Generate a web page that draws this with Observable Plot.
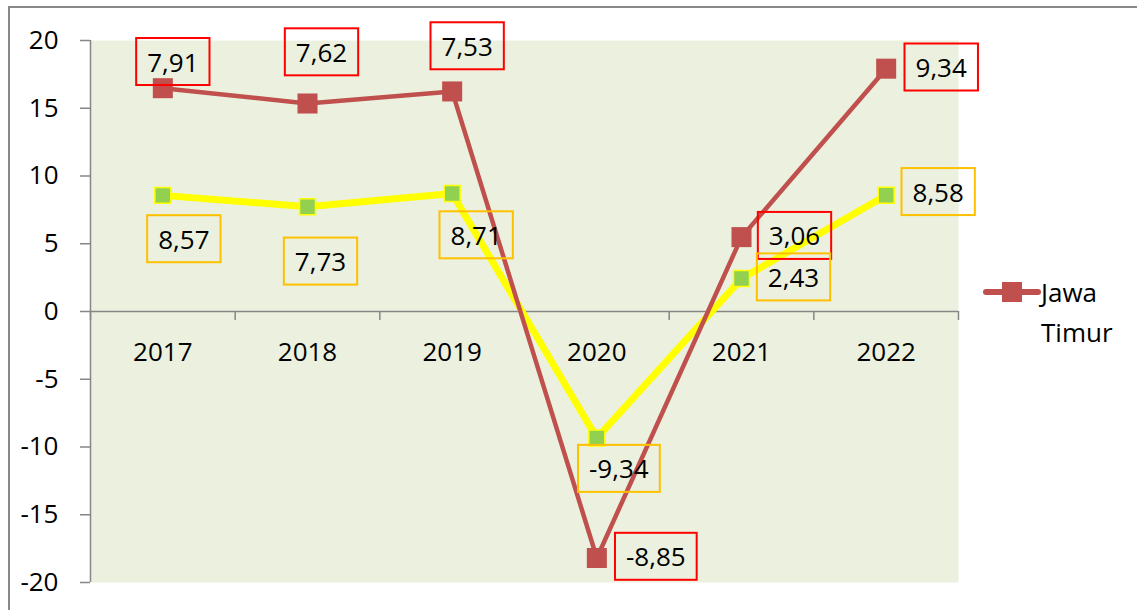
<!DOCTYPE html>
<html><head><meta charset="utf-8">
<script src="https://cdn.jsdelivr.net/npm/d3@7"></script>
<script src="https://cdn.jsdelivr.net/npm/@observablehq/plot@0.6"></script>
<style>
body{margin:0;background:#fff;overflow:hidden;font-family:"Open Sans",sans-serif;}
#wrap{position:relative;width:1137px;height:610px;overflow:hidden;}
#border{position:absolute;left:8px;top:6px;width:1300px;height:800px;border-left:2px solid #888;border-top:2px solid #888;}
#chart{position:absolute;left:0;top:0;}
#legend{position:absolute;left:983px;top:272px;display:flex;align-items:flex-start;}
#legend .txt{font-size:26px;line-height:40px;color:#000;margin-left:0px;}
</style>
</head><body>
<div id="wrap">
<div id="border"></div>
<div id="chart"></div>
<div id="legend"></div>
</div>
<script>
// ---- data ----
const years = ["2017", "2018", "2019", "2020", "2021", "2022"];
const yellowValues = [8.57, 7.73, 8.71, -9.34, 2.43, 8.58];
const redValues = [16.48, 15.35, 16.24, -18.19, 5.49, 17.92];   // plotted (stacked) positions
const redLabels = ["7,91", "7,62", "7,53", "-8,85", "3,06", "9,34"];
const yellowLabels = ["8,57", "7,73", "8,71", "-9,34", "2,43", "8,58"];
const yTicks = [-20, -15, -10, -5, 0, 5, 10, 15, 20];
const legendWords = ["Jawa", "Timur"];

// ---- styles / layout ----
const RED = "#C0504D", YELLOW = "#FFFF00", GREEN = "#92D050", AXIS = "#868686";
const redOffsets = [[10, -25], [14, -50], [15, -44], [59, 0], [53, 0], [55, 0]];
const yellowOffsets = [[21, 45], [13, 56], [24, 43], [22, 32], [52, 0], [52, -2]];

const rows = years.map((year, i) => ({i, year, red: redValues[i], yellow: yellowValues[i], redLabel: redLabels[i], yellowLabel: yellowLabels[i]}));
const bounds = years.map((_, i) => i - 0.5).concat([years.length - 0.5]);

const labelMarks = [];
rows.forEach((d, k) => {
  labelMarks.push(Plot.text([d], {x: "i", y: "red", text: "redLabel", dx: redOffsets[k][0], dy: redOffsets[k][1], fill: "#000", ariaDescription: "lbl-red"}));
  labelMarks.push(Plot.text([d], {x: "i", y: "yellow", text: "yellowLabel", dx: yellowOffsets[k][0], dy: yellowOffsets[k][1], fill: "#000", ariaDescription: "lbl-yellow"}));
});

const chart = Plot.plot({
  width: 1137, height: 610,
  marginLeft: 90, marginRight: 179, marginTop: 40, marginBottom: 28,
  style: {fontFamily: "Open Sans", fontSize: "26px", background: "transparent", overflow: "visible"},
  x: {type: "linear", domain: [-0.5, years.length - 0.5], axis: null},
  y: {domain: [-20, 20]},
  marks: [
    Plot.frame({fill: "#EBF1DE", stroke: "none"}),
    Plot.ruleX([-0.5], {stroke: AXIS, strokeWidth: 1.5}),
    Plot.ruleY([0], {stroke: AXIS, strokeWidth: 1.5}),
    Plot.ruleX(bounds, {x: d => d, y1: 0, y2: 0, insetBottom: -9, stroke: AXIS, strokeWidth: 1.5}),
    Plot.axisY({ticks: yTicks, tickSize: 10, tickPadding: 22, tickFormat: d => String(d), stroke: AXIS, strokeWidth: 1.5, fill: "#000", label: null}),
    Plot.text(rows, {x: "i", y: 0, text: "year", dy: 41, fill: "#000"}),
    Plot.line(rows, {x: "i", y: "yellow", stroke: YELLOW, strokeWidth: 7}),
    Plot.line(rows, {x: "i", y: "red", stroke: RED, strokeWidth: 4.5}),
    Plot.dot(rows, {x: "i", y: "yellow", symbol: "square", r: 9, fill: GREEN, stroke: YELLOW, strokeWidth: 1.5}),
    Plot.dot(rows, {x: "i", y: "red", symbol: "square", r: 11.3, fill: RED}),
    ...labelMarks
  ]
});
document.getElementById("chart").appendChild(chart);

// boxes around data labels
function boxes(desc, color) {
  chart.querySelectorAll(`g[aria-description="${desc}"] text`).forEach(t => {
    const b = t.getBBox();
    const cy = b.y + b.height / 2;
    const r = document.createElementNS("http://www.w3.org/2000/svg", "rect");
    r.setAttribute("x", b.x - 11);
    r.setAttribute("y", cy - 23.5);
    r.setAttribute("width", b.width + 22);
    r.setAttribute("height", 47);
    r.setAttribute("fill", "none");
    r.setAttribute("stroke", color);
    r.setAttribute("stroke-width", 2);
    const tr = t.getAttribute("transform");
    if (tr) r.setAttribute("transform", tr);
    t.parentNode.insertBefore(r, t);
  });
}
boxes("lbl-red", "#FF0000");
boxes("lbl-yellow", "#FFC000");

// legend
const lg = document.getElementById("legend");
lg.innerHTML = `<svg width="58" height="40"><line x1="3" y1="20" x2="55" y2="20" stroke="${RED}" stroke-width="6" stroke-linecap="round"/><rect x="19" y="10" width="20" height="20" fill="${RED}"/></svg><div class="txt">${legendWords.join("<br>")}</div>`;
</script>
</body></html>
